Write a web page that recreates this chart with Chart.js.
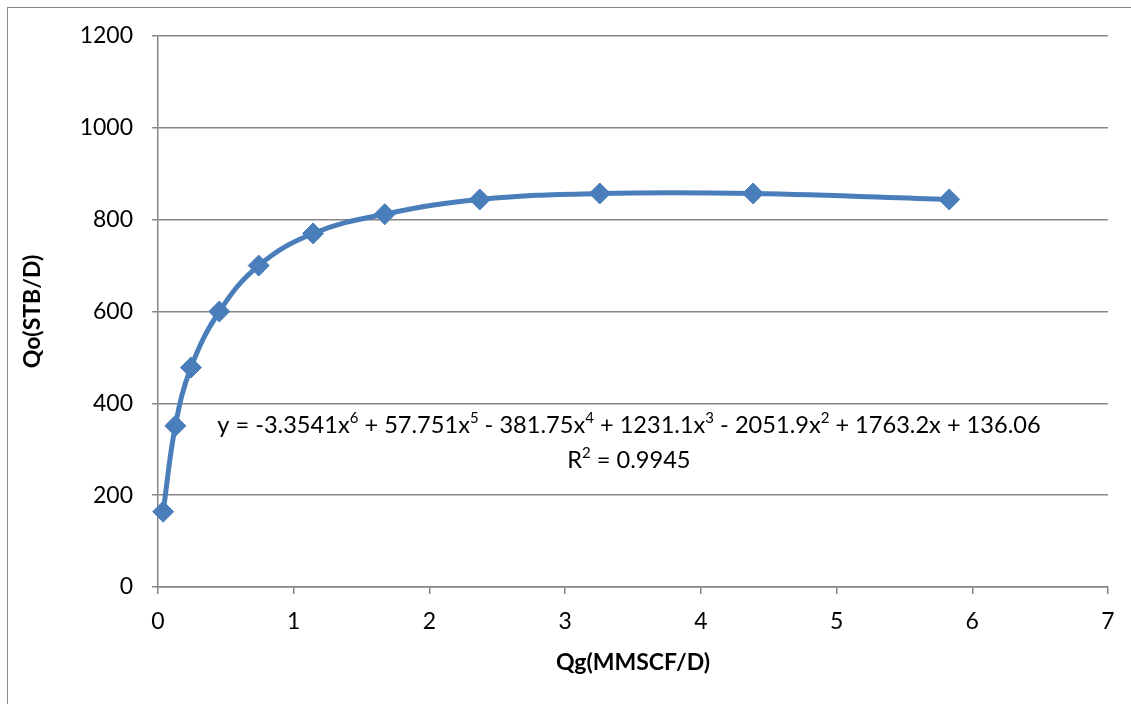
<!DOCTYPE html>
<html>
<head>
<meta charset="utf-8">
<script src="https://cdn.jsdelivr.net/npm/chart.js@4.4.1/dist/chart.umd.min.js"></script>
<style>
  html, body { margin:0; padding:0; background:#fff; overflow:hidden; }
  #wrap { position:relative; width:1131px; height:704px; }
  #frame { position:absolute; left:7px; top:7px; width:1200px; height:800px; border:1.5px solid #8a8a8a; box-sizing:border-box; }
  canvas { position:absolute; left:0; top:0; }
</style>
</head>
<body>
<div id="wrap">
  <div id="frame"></div>
  <canvas id="c" width="1131" height="704"></canvas>
</div>
<script>
// ===== datos =====
const QG = [0.038, 0.128, 0.243, 0.452, 0.742, 1.143, 1.671, 2.371, 3.255, 4.385, 5.83];   // MMSCF/D
const QO = [164, 351, 478, 600, 700, 770, 812, 844, 857, 857, 844];                        // STB/D

const X_MIN = 0, X_MAX = 7, X_STEP = 1;
const Y_MIN = 0, Y_MAX = 1200, Y_STEP = 200;

const X_TITLE = "Qg(MMSCF/D)";
const Y_TITLE = "Qo(STB/D)";

// ecuacion de la linea de tendencia: [texto, superindice]
const EQ_PARTS = [
  ["y = -3.3541x", "6"], [" + 57.751x", "5"], [" - 381.75x", "4"], [" + 1231.1x", "3"],
  [" - 2051.9x", "2"], [" + 1763.2x + 136.06", ""]
];
const R2_PARTS = [["R", "2"], [" = 0.9945", ""]];
const EQ_POS = { x: 3.47, y: 352 };   // centro de la primera linea, en unidades de datos

// ===== estilos =====
const BLUE = "#4a7ebb";
const GRID = "#868686";
const FONT = "Lato, 'Open Sans', sans-serif";

function drawParts(ctx, parts, cx, cy, size){
  const base = `${size}px ${FONT}`;
  const sup = `${Math.round(size*0.62)}px ${FONT}`;
  let w = 0;
  parts.forEach(([t,s])=>{
    ctx.font = base; w += ctx.measureText(t).width;
    if (s){ ctx.font = sup; w += ctx.measureText(s).width; }
  });
  let x = cx - w/2;
  ctx.textAlign = "left";
  ctx.textBaseline = "middle";
  parts.forEach(([t,s])=>{
    ctx.font = base; ctx.fillText(t, x, cy); x += ctx.measureText(t).width;
    if (s){ ctx.font = sup; ctx.fillText(s, x, cy - size*0.3); x += ctx.measureText(s).width; }
  });
  return w;
}

const trendLabel = {
  id: "trendLabel",
  afterDatasetsDraw(chart){
    const {ctx, scales:{x, y}} = chart;
    ctx.save();
    ctx.fillStyle = "#000";
    const cx = x.getPixelForValue(EQ_POS.x);
    const cy = y.getPixelForValue(EQ_POS.y);
    drawParts(ctx, EQ_PARTS, cx, cy, 23.6);
    drawParts(ctx, R2_PARTS, cx, cy + 35, 23.6);
    ctx.restore();
  }
};

new Chart(document.getElementById("c"), {
  type: "scatter",
  data: {
    datasets: [{
      data: QG.map((g,i)=>({x:g, y:QO[i]})),
      showLine: true,
      tension: 0.4,
      borderColor: BLUE,
      borderWidth: 5,
      backgroundColor: BLUE,
      pointStyle: "rectRot",
      pointRadius: 10.5,
      pointBorderWidth: 1,
      pointBorderColor: BLUE,
      clip: false
    }]
  },
  options: {
    responsive: false,
    animation: false,
    layout: { padding: { left: 0, right: 23, top: 36, bottom: 0 } },
    plugins: { legend: { display:false }, tooltip: { enabled:false } },
    scales: {
      x: {
        type: "linear", min: X_MIN, max: X_MAX,
        ticks: { stepSize: X_STEP, color:"#000", font:{ family:FONT, size:23 }, padding: 14, callback: v => String(v) },
        grid: { drawOnChartArea:false, drawTicks:true, tickLength:7, color:GRID, lineWidth:1.5 },
        border: { color:GRID, width:1.5 },
        title: { display:true, text:X_TITLE, color:"#000", font:{ family:FONT, size:23, weight:"bold" }, padding:{ top:0, bottom:28 } },
        afterFit(s){ s.height = 704 - 587; }
      },
      y: {
        type: "linear", min: Y_MIN, max: Y_MAX,
        ticks: { stepSize: Y_STEP, color:"#000", font:{ family:FONT, size:23 }, padding: 19, callback: v => String(v) },
        grid: { drawTicks:true, tickLength:6, color:GRID, lineWidth:1.5 },
        border: { color:GRID, width:1.5 },
        title: { display:true, text:Y_TITLE, color:"#000", font:{ family:FONT, size:23, weight:"bold" }, padding:{ top:19, bottom:0 } },
        afterFit(s){ s.width = 158; }
      }
    }
  },
  plugins: [trendLabel]
});
</script>
</body>
</html>
